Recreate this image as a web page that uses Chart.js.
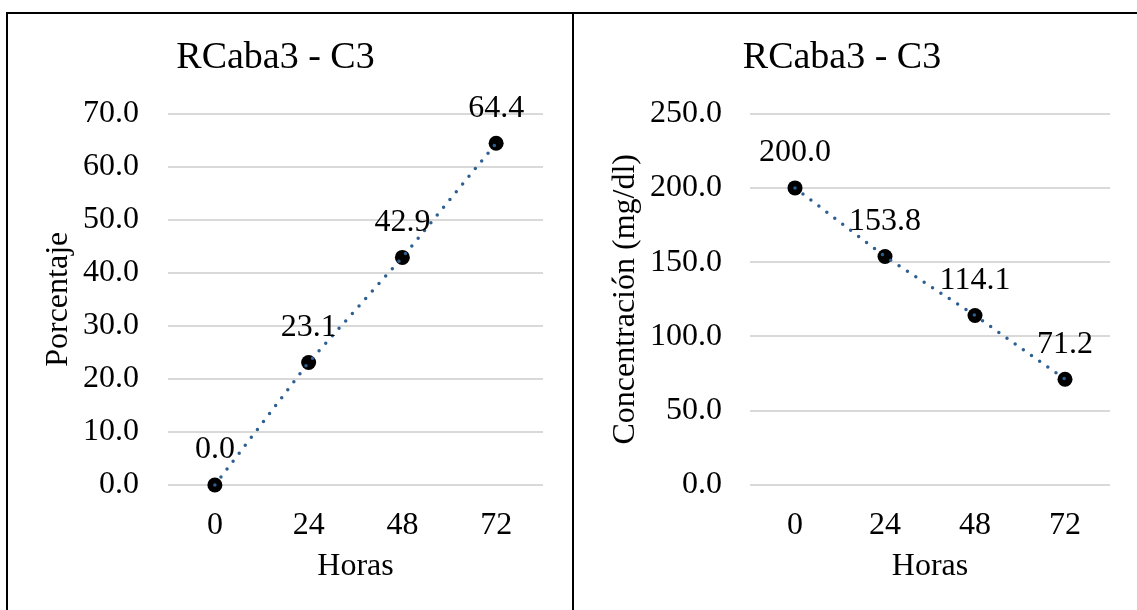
<!DOCTYPE html>
<html>
<head>
<meta charset="utf-8">
<script src="https://cdn.jsdelivr.net/npm/chart.js@4.4.0/dist/chart.umd.min.js"></script>
<style>
  html, body { margin: 0; padding: 0; background: #fff; overflow: hidden; }
  body { width: 1137px; height: 610px; position: relative; }
  .panel { position: absolute; top: 12px; height: 620px; border-top: 2px solid #000; border-left: 2px solid #000; }
  #panelLeft { left: 6px; width: 564px; }
  #panelRight { left: 572px; width: 580px; }
  .box { position: absolute; left: 0; top: 0; width: 563px; height: 596px; }
</style>
</head>
<body>
<div class="panel" id="panelLeft"><div class="box"><canvas id="chartLeft"></canvas></div></div>
<div class="panel" id="panelRight"><div class="box"><canvas id="chartRight"></canvas></div></div>
<script>
// datos
const horas = ['0', '24', '48', '72'];
const porcentaje = [0.0, 23.1, 42.9, 64.4];
const concentracion = [200.0, 153.8, 114.1, 71.2];
const titulo = 'RCaba3 - C3';

const FONT = '"Liberation Serif", "Times New Roman", serif';

// etiquetas encima de cada punto
const pointLabels = {
    id: 'pointLabels',
    afterDatasetsDraw(chart) {
        const meta = chart.getDatasetMeta(0);
        const values = chart.data.datasets[0].data;
        const ctx = chart.ctx;
        ctx.save();
        ctx.font = '32px ' + FONT;
        ctx.fillStyle = '#000';
        ctx.textAlign = 'center';
        ctx.textBaseline = 'middle';
        meta.data.forEach((pt, i) => {
            ctx.fillText(values[i].toFixed(1), pt.x, pt.y - 35);
        });
        ctx.restore();
    }
};

function makeChart(id, values, yMax, yStep, yTitle, yWidth, yTitlePad, tickPad, padRight) {
    const ctx = document.getElementById(id).getContext('2d');
    return new Chart(ctx, {
        type: 'line',
        data: {
            labels: horas,
            datasets: [{
                data: values,
                showLine: false,
                pointRadius: 7.5,
                pointBackgroundColor: '#000',
                pointBorderColor: '#000',
                pointBorderWidth: 0,
                order: 1,
                clip: false
            }, {
                data: values,
                borderColor: '#2e5f91',
                borderWidth: 3.5,
                borderDash: [0, 10],
                borderCapStyle: 'round',
                pointRadius: 0,
                fill: false,
                order: 0,
                clip: false
            }]
        },
        options: {
            responsive: true,
            maintainAspectRatio: false,
            animation: false,
            layout: { padding: { top: 21, right: padRight, bottom: 15, left: 0 } },
            plugins: {
                legend: { display: false },
                tooltip: { enabled: false },
                title: {
                    display: true,
                    text: titulo,
                    color: '#000',
                    font: { family: FONT, size: 38, weight: 'normal' },
                    padding: { top: 0, bottom: 33 }
                }
            },
            scales: {
                x: {
                    offset: true,
                    grid: { display: false, offset: true },
                    border: { display: false },
                    ticks: { color: '#000', font: { family: FONT, size: 32 }, padding: 13 },
                    title: {
                        display: true,
                        text: 'Horas',
                        color: '#000',
                        font: { family: FONT, size: 32 },
                        padding: { top: 0, bottom: 9 }
                    },
                    afterFit(scale) { scale.height = 110; }
                },
                y: {
                    min: 0,
                    max: yMax,
                    grid: { color: '#d9d9d9', lineWidth: 2, drawTicks: false },
                    border: { display: false },
                    ticks: {
                        stepSize: yStep,
                        color: '#000',
                        font: { family: FONT, size: 32 },
                        padding: tickPad,
                        callback: (v) => v.toFixed(1)
                    },
                    title: {
                        display: true,
                        text: yTitle,
                        color: '#000',
                        font: { family: FONT, size: 32 },
                        padding: { top: yTitlePad, bottom: 0 }
                    },
                    afterFit(scale) { scale.width = yWidth; }
                }
            }
        },
        plugins: [pointLabels]
    });
}

makeChart('chartLeft', porcentaje, 70, 10, 'Porcentaje', 160, 31, 29, 28);
makeChart('chartRight', concentracion, 250, 50, 'Concentración (mg/dl)', 176, 32, 28, 27);
</script>
</body>
</html>
